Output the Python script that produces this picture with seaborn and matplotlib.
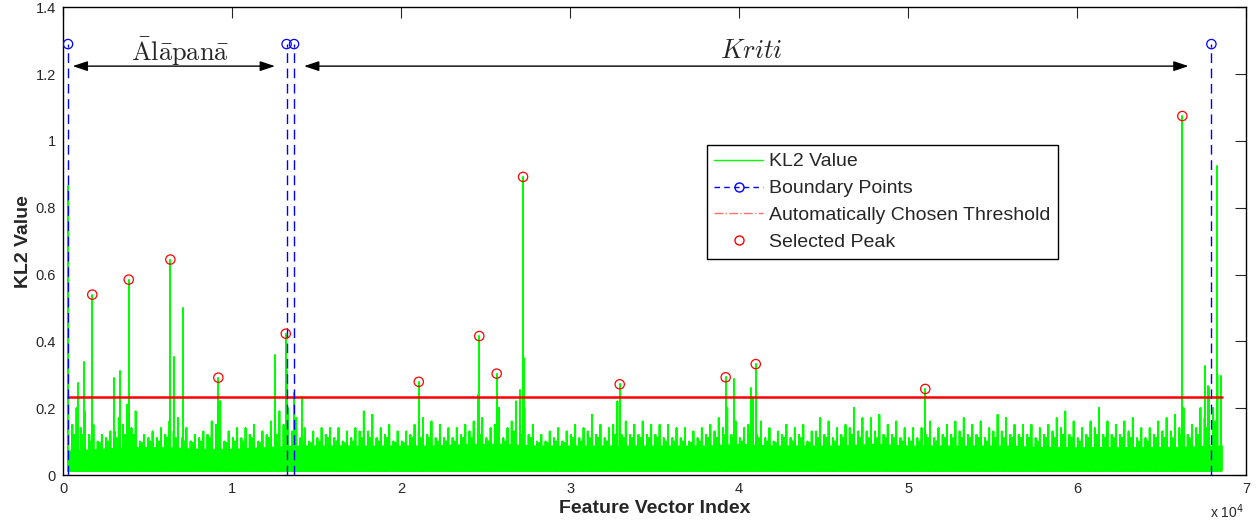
import numpy as np
import pandas as pd
import matplotlib
matplotlib.use("Agg")
import matplotlib.pyplot as plt
from matplotlib.lines import Line2D
import seaborn as sns

# ---------------- data ----------------
# major spikes of the KL2 curve (feature index, value)
spike_x = [296, 870, 1220, 1730, 3040, 3370, 3890, 6350, 6590, 7080, 9190,
           12560, 13180, 13250, 13650, 14160, 21050, 24570, 24630, 25660,
           27040, 27220, 27280, 32940, 39210, 39720, 40730, 40990, 51020,
           66230, 67570, 67730, 67800, 68260, 68520]
spike_y = [0.866, 0.274, 0.337, 0.540, 0.289, 0.3125, 0.585, 0.645, 0.353, 0.4995, 0.2915,
           0.358, 0.423, 0.310, 0.247, 0.234, 0.279, 0.241, 0.416, 0.3035,
           0.254, 0.8925, 0.350, 0.2716, 0.2925, 0.2866, 0.260, 0.332, 0.2577,
           1.0746, 0.3275, 0.266, 0.260, 0.925, 0.296]

# tallest noise stroke in each 500-sample bin
noise_top = [0.21, 0.20, 0.19, 0.15, 0.12, 0.13, 0.17, 0.21, 0.19, 0.12,
             0.13, 0.14, 0.16, 0.17, 0.14, 0.12, 0.13, 0.16, 0.22, 0.13,
             0.14, 0.14, 0.15, 0.13, 0.16, 0.19, 0.20, 0.17, 0.14, 0.13,
             0.14, 0.14, 0.14, 0.13, 0.14, 0.19, 0.18, 0.14, 0.15, 0.13,
             0.13, 0.15, 0.17, 0.16, 0.15, 0.14, 0.14, 0.15, 0.16, 0.17,
             0.14, 0.20, 0.14, 0.22, 0.20, 0.15, 0.12, 0.13, 0.14, 0.13,
             0.15, 0.14, 0.18, 0.15, 0.14, 0.22, 0.16, 0.15, 0.16, 0.15,
             0.15, 0.15, 0.14, 0.14, 0.13, 0.14, 0.15, 0.17, 0.20, 0.16,
             0.14, 0.23, 0.16, 0.14, 0.13, 0.15, 0.14, 0.15, 0.13, 0.17,
             0.16, 0.14, 0.15, 0.20, 0.17, 0.17, 0.18, 0.15, 0.16, 0.14,
             0.14, 0.14, 0.16, 0.14, 0.15, 0.16, 0.17, 0.15, 0.16, 0.14,
             0.18, 0.17, 0.15, 0.15, 0.15, 0.14, 0.15, 0.17, 0.19, 0.16,
             0.14, 0.16, 0.20, 0.16, 0.15, 0.16, 0.17, 0.14, 0.14, 0.16,
             0.17, 0.18, 0.20, 0.15, 0.20, 0.24, 0.30]
# second-tallest noise stroke in each bin
noise_mid = [0.13, 0.15, 0.14, 0.12, 0.10, 0.11, 0.13, 0.15, 0.14, 0.10,
             0.11, 0.11, 0.12, 0.13, 0.11, 0.10, 0.11, 0.12, 0.15, 0.10,
             0.11, 0.11, 0.12, 0.10, 0.12, 0.14, 0.15, 0.13, 0.11, 0.10,
             0.11, 0.12, 0.11, 0.10, 0.11, 0.13, 0.13, 0.11, 0.12, 0.10,
             0.10, 0.12, 0.13, 0.12, 0.11, 0.11, 0.11, 0.12, 0.13, 0.14,
             0.11, 0.15, 0.11, 0.16, 0.15, 0.12, 0.10, 0.10, 0.11, 0.10,
             0.12, 0.11, 0.13, 0.12, 0.11, 0.15, 0.12, 0.12, 0.12, 0.12,
             0.12, 0.11, 0.11, 0.11, 0.10, 0.11, 0.12, 0.13, 0.14, 0.12,
             0.11, 0.15, 0.12, 0.11, 0.10, 0.12, 0.11, 0.12, 0.10, 0.13,
             0.12, 0.11, 0.12, 0.14, 0.13, 0.13, 0.13, 0.12, 0.12, 0.11,
             0.11, 0.11, 0.12, 0.11, 0.12, 0.12, 0.13, 0.12, 0.12, 0.11,
             0.13, 0.13, 0.12, 0.12, 0.12, 0.11, 0.12, 0.13, 0.14, 0.12,
             0.11, 0.12, 0.14, 0.12, 0.12, 0.12, 0.13, 0.11, 0.11, 0.12,
             0.13, 0.13, 0.14, 0.12, 0.14, 0.17, 0.20]
# third-tallest noise stroke in each bin
noise_third = [0.11, 0.12, 0.12, 0.10, 0.095, 0.10, 0.11, 0.12, 0.12, 0.095,
               0.10, 0.10, 0.11, 0.11, 0.10, 0.095, 0.10, 0.11, 0.12, 0.095,
               0.10, 0.10, 0.11, 0.095, 0.11, 0.12, 0.12, 0.11, 0.10, 0.095,
               0.10, 0.11, 0.10, 0.095, 0.10, 0.11, 0.11, 0.10, 0.11, 0.095,
               0.095, 0.11, 0.11, 0.11, 0.10, 0.10, 0.10, 0.11, 0.11, 0.12,
               0.10, 0.12, 0.10, 0.13, 0.12, 0.11, 0.095, 0.095, 0.10, 0.095,
               0.11, 0.10, 0.11, 0.11, 0.10, 0.12, 0.11, 0.11, 0.11, 0.11,
               0.11, 0.10, 0.10, 0.10, 0.095, 0.10, 0.11, 0.11, 0.12, 0.11,
               0.10, 0.12, 0.11, 0.10, 0.095, 0.11, 0.10, 0.11, 0.095, 0.11,
               0.11, 0.10, 0.11, 0.12, 0.11, 0.11, 0.11, 0.11, 0.11, 0.10,
               0.10, 0.10, 0.11, 0.10, 0.11, 0.11, 0.11, 0.11, 0.11, 0.10,
               0.11, 0.11, 0.11, 0.11, 0.11, 0.10, 0.11, 0.11, 0.12, 0.11,
               0.10, 0.11, 0.12, 0.11, 0.11, 0.11, 0.11, 0.10, 0.10, 0.11,
               0.11, 0.11, 0.12, 0.11, 0.12, 0.14, 0.16]
noise_bin = 500
noise_floor = 0.013

# top of the dense (solid) part of the noise band
core_x = [250, 2000, 4000, 6000, 8000, 10000, 12000, 14000, 16000, 18000,
          20000, 22000, 24000, 26000, 28000, 30000, 32000, 34000, 36000, 38000,
          40000, 42000, 44000, 46000, 48000, 50000, 52000, 54000, 56000, 58000,
          60000, 62000, 64000, 66000, 68000, 68600]
core_y = [0.075, 0.080, 0.085, 0.085, 0.080, 0.080, 0.085, 0.090, 0.090, 0.090,
          0.090, 0.090, 0.095, 0.095, 0.090, 0.090, 0.090, 0.090, 0.090, 0.090,
          0.095, 0.090, 0.090, 0.090, 0.095, 0.090, 0.090, 0.090, 0.090, 0.085,
          0.085, 0.085, 0.085, 0.085, 0.090, 0.090]

# selected peaks
peak_x = [1730, 3890, 6350, 9190, 13180, 21050, 24630, 25660, 27220, 32940,
          39210, 40990, 51020, 66230]
peak_y = [0.540, 0.585, 0.645, 0.2915, 0.423, 0.279, 0.416, 0.3035, 0.8925, 0.2716,
          0.2925, 0.332, 0.2577, 1.0746]

# boundary points
bound_x = [296, 13230, 13670, 67950]
bound_y = [1.29, 1.29, 1.29, 1.29]

# automatically chosen threshold
thr_x = [296, 68600]
thr_y = [0.234, 0.234]

x_ticks = [0, 10000, 20000, 30000, 40000, 50000, 60000, 70000]
x_tick_labels = ["0", "1", "2", "3", "4", "5", "6", "7"]
y_ticks = [0, 0.2, 0.4, 0.6, 0.8, 1.0, 1.2, 1.4]
y_tick_labels = ["0", "0.2", "0.4", "0.6", "0.8", "1", "1.2", "1.4"]

# ---------------- build the stroke tables ----------------
noise_x = ([noise_bin * i + 0.6 * noise_bin for i in range(len(noise_top))]
           + [noise_bin * i + 0.1 * noise_bin for i in range(len(noise_mid))]
           + [noise_bin * i + 0.35 * noise_bin for i in range(len(noise_third))])
noise_y = list(noise_top) + list(noise_mid) + list(noise_third)


def stroke_table(xs, ys):
    order = np.argsort(xs, kind="stable")
    rows = []
    for i in order:
        if xs[i] < 250 or xs[i] > 68600:
            continue
        rows.append((xs[i], noise_floor))
        rows.append((xs[i], ys[i]))
        rows.append((xs[i], noise_floor))
    return pd.DataFrame(rows, columns=["index", "kl2"])


noise_df = stroke_table(noise_x, noise_y)
spike_df = stroke_table(spike_x, spike_y)

# ---------------- style ----------------
sns.set_style("white")
plt.rcParams["font.family"] = ["Liberation Sans", "DejaVu Sans"]
plt.rcParams["mathtext.fontset"] = "cm"
plt.rcParams["xtick.direction"] = "in"
plt.rcParams["ytick.direction"] = "in"

GREEN = "#00ff00"
BLUE = "#0000ff"
RED = "#ff0000"

fig = plt.figure(figsize=(12.58, 5.2), dpi=100)
ax = fig.add_axes([0.0501, 0.0865, 0.9404, 0.8994])

# dense base of noise
ax.fill_between(core_x, noise_floor, core_y, color=GREEN, lw=0, zorder=2)
# noise strokes
sns.lineplot(data=noise_df, x="index", y="kl2", sort=False, estimator=None,
             color=GREEN, lw=1.4, ax=ax, zorder=3)
# spikes
sns.lineplot(data=spike_df, x="index", y="kl2", sort=False, estimator=None,
             color=GREEN, lw=1.1, ax=ax, zorder=3)

# threshold
sns.lineplot(x=thr_x, y=thr_y, color=RED, lw=1.8, ax=ax, zorder=4)

# boundaries
ax.vlines(bound_x, 0, bound_y, colors=BLUE, linestyles=(0, (7, 4)), lw=1.0, zorder=5)
sns.scatterplot(x=bound_x, y=bound_y, marker="o", s=45, facecolor="none",
                edgecolor=BLUE, linewidth=0.9, ax=ax, zorder=6)

# selected peaks
sns.scatterplot(x=peak_x, y=peak_y, marker="o", s=45, facecolor="none",
                edgecolor=RED, linewidth=0.9, ax=ax, zorder=6)

# section arrows and labels
arrow_style = "<|-|>,head_length=0.9,head_width=0.3"
ax.annotate("", xy=(570, 1.224), xytext=(12540, 1.224),
            arrowprops=dict(arrowstyle=arrow_style, color="black", lw=1.0,
                            shrinkA=0, shrinkB=0))
ax.annotate("", xy=(14260, 1.224), xytext=(66600, 1.224),
            arrowprops=dict(arrowstyle=arrow_style, color="black", lw=1.0,
                            shrinkA=0, shrinkB=0))
ax.text(6900, 1.240, r"$\mathrm{\bar{A}l\bar{a}pan\bar{a}}$", fontsize=19,
        ha="center", va="baseline")
ax.text(40750, 1.247, r"$Kriti$", fontsize=19, ha="center", va="baseline")

# axes
ax.set_xlim(0, 70000)
ax.set_ylim(0, 1.4)
ax.set_xticks(x_ticks)
ax.set_xticklabels(x_tick_labels)
ax.set_yticks(y_ticks)
ax.set_yticklabels(y_tick_labels)
ax.tick_params(axis="both", which="both", direction="in", length=8, width=0.8,
               top=True, right=True, labelsize=10.5, pad=5)
for sp in ax.spines.values():
    sp.set_visible(True)
    sp.set_color("black")
    sp.set_linewidth(1.0)
ax.set_xlabel("Feature Vector Index", fontsize=14, fontweight="bold", labelpad=3)
ax.set_ylabel("KL2 Value", fontsize=14, fontweight="bold", labelpad=2.5)
ax.text(0.9985, -0.058, r"x 10$^{4}$", transform=ax.transAxes, fontsize=10,
        ha="right", va="top", math_fontfamily="dejavusans")

handles = [
    Line2D([], [], color=GREEN, lw=1.0),
    Line2D([], [], color=BLUE, lw=1.0, ls=(0, (4, 3)), marker="o", mfc="none",
           mec=BLUE, ms=6.5),
    Line2D([], [], color="#ff7070", lw=1.0, ls="-."),
    Line2D([], [], color=RED, lw=0, marker="o", mfc="none", mec=RED, ms=6.5),
]
labels = ["KL2 Value", "Boundary Points", "Automatically Chosen Threshold",
          "Selected Peak"]
leg = ax.legend(handles, labels, loc="upper left", bbox_to_anchor=(0.544, 0.7056),
                borderaxespad=0, fontsize=14, frameon=True, fancybox=False,
                edgecolor="black", framealpha=1, handlelength=2.5,
                handletextpad=0.3, labelspacing=0.48, borderpad=0.4, numpoints=1)
leg.get_frame().set_linewidth(1.0)
leg.set_zorder(10)

fig.savefig("out.png", dpi=100)
